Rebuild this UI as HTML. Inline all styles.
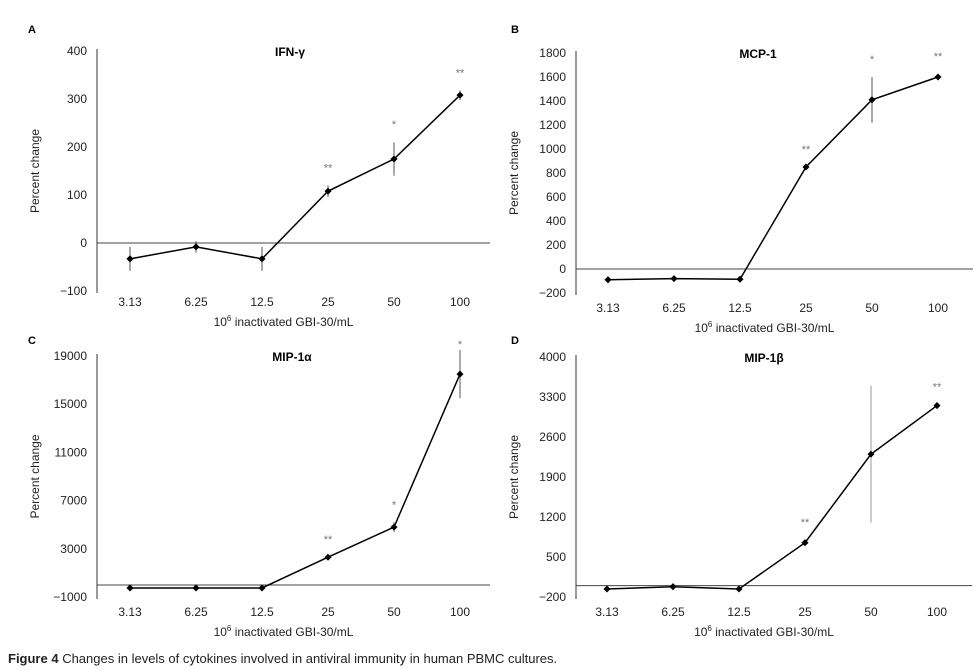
<!DOCTYPE html>
<html><head><meta charset="utf-8"><style>
body{margin:0;background:#fff;}
svg{display:block;font-family:"Liberation Sans",sans-serif;}
</style></head><body>
<svg id="fig" width="976" height="670" viewBox="0 0 976 670" xmlns="http://www.w3.org/2000/svg">
<text x="8" y="663" font-size="13" fill="#222"><tspan font-weight="bold">Figure 4</tspan> Changes in levels of cytokines involved in antiviral immunity in human PBMC cultures.</text>
</svg>
<script>
const categories = ["3.13","6.25","12.5","25","50","100"];
const ifnValues = [-33,-8,-33,108,175,308];
const ifnErrors = [25,12,25,12,35,10];
const ifnSig = ["","","","**","*","**"];
const ifnTicks = [400,300,200,100,0,-100];
const mcpValues = [-90,-80,-85,850,1410,1600];
const mcpErrors = [0,0,0,0,190,25];
const mcpSig = ["","","","**","*","**"];
const mcpTicks = [1800,1600,1400,1200,1000,800,600,400,200,0,-200];
const mip1aValues = [-250,-250,-250,2300,4800,17500];
const mip1aErrors = [0,0,0,0,400,2000];
const mip1aSig = ["","","","**","*","*"];
const mip1aTicks = [19000,15000,11000,7000,3000,-1000];
const mip1bValues = [-60,-20,-60,750,2300,3150];
const mip1bErrors = [0,0,0,50,1200,20];
const mip1bSig = ["","","","**","","**"];
const mip1bTicks = [4000,3300,2600,1900,1200,500,-200];

const NS="http://www.w3.org/2000/svg";
const svg=document.getElementById('fig');
function el(tag,attrs,parent,text){const e=document.createElementNS(NS,tag);for(const k in attrs)e.setAttribute(k,attrs[k]);if(text!==undefined)e.textContent=text;(parent||svg).appendChild(e);return e;}

function panel(p){
  const g=el('g',{});
  
  
  const yMin=p.ticks[p.ticks.length-1], yMax=p.ticks[0];
  const y=v=>p.yBot-(v-yMin)/(yMax-yMin)*(p.yBot-p.yTop);
  const x=i=>p.x0+i*p.dx;
  const lab=el('text',{x:p.letterX,y:p.letterY,'font-size':11,'font-weight':'bold'},g,p.letter);
  
  
  const t=el('text',{x:p.titleX,y:p.yTop+5,'font-size':12,'font-weight':'bold','text-anchor':'middle'},g,p.title);
  
  
  const ya=el('line',{x1:p.ax,y1:p.yTop-2,x2:p.ax,y2:p.yBot+2,stroke:'#333','stroke-width':1},g);
  
  
  const zl=el('line',{x1:p.ax,y1:y(0),x2:p.right,y2:y(0),stroke:'#444','stroke-width':1},g);
  
  
  p.ticks.forEach(v=>{
    const tt=el('text',{x:p.ax-10,y:y(v)+4,'font-size':12,'text-anchor':'end',fill:'#222'},g,v<0?'\u2212'+(-v):String(v));
    
    
  });
  categories.forEach((c,i)=>{
    const tt=el('text',{x:x(i),y:p.catY,'font-size':12,'text-anchor':'middle',fill:'#222'},g,c);
    
    
  });
  const xt=el('text',{x:(p.ax+p.right)/2-10,y:p.catY+20,'font-size':12,'text-anchor':'middle',fill:'#222'},g);
  
  
  el('tspan',{},xt,'10');
  el('tspan',{dy:-5,'font-size':8},xt,'6');
  el('tspan',{dy:5},xt,' inactivated GBI-30/mL');
  const yt=el('text',{transform:`translate(${p.ax-58},${(p.yTop+p.yBot)/2}) rotate(-90)`,'font-size':12,'text-anchor':'middle',fill:'#222'},g,'Percent change');
  
  
  p.errs.forEach((e,i)=>{
    if(!e)return;
    const b=el('line',{x1:x(i),y1:y(p.vals[i]+e),x2:x(i),y2:y(p.vals[i]-e),stroke:p.errColor||'#555','stroke-width':1},g);
    
    
  });
  const ln=el('polyline',{points:p.vals.map((v,i)=>x(i)+','+y(v)).join(' '),fill:'none',stroke:'#000','stroke-width':1.5},g);
  
  
  p.vals.forEach((v,i)=>{
    const m=el('rect',{x:x(i)-2.5,y:y(v)-2.5,width:5,height:5,transform:`rotate(45 ${x(i)} ${y(v)})`,fill:'#000'},g);
    
    
  });
  p.sig.forEach((s,i)=>{
    if(!s)return;
    const top=p.vals[i]+p.errs[i];
    let sy=Math.max(y(top)-14,p.yTop-8);
    const st=el('text',{x:x(i),y:sy,'font-size':11,'text-anchor':'middle',fill:'#777'},g,s);
    
    
  });
}
panel({key:'ifn-gamma',letter:'A',letterX:28,letterY:33,title:'IFN-\u03b3',titleX:290,ax:97,yTop:51,yBot:291,right:490,x0:130,dx:66,catY:306,ticks:ifnTicks,vals:ifnValues,errs:ifnErrors,sig:ifnSig});
panel({key:'mcp-1',letter:'B',letterX:511,letterY:33,title:'MCP-1',titleX:758,ax:576,yTop:53,yBot:293,right:973,x0:608,dx:66,catY:312,ticks:mcpTicks,vals:mcpValues,errs:mcpErrors,sig:mcpSig});
panel({key:'mip-1-alpha',letter:'C',letterX:28,letterY:344,title:'MIP-1\u03b1',titleX:292,ax:97,yTop:356,yBot:597,right:490,x0:130,dx:66,catY:616,ticks:mip1aTicks,vals:mip1aValues,errs:mip1aErrors,sig:mip1aSig});
panel({key:'mip-1-beta',letter:'D',letterX:511,letterY:344,title:'MIP-1\u03b2',titleX:764,ax:576,yTop:357,yBot:597,right:972,x0:607,dx:66,catY:616,ticks:mip1bTicks,vals:mip1bValues,errs:mip1bErrors,sig:mip1bSig,errColor:'#999'});
</script>
</body></html>
